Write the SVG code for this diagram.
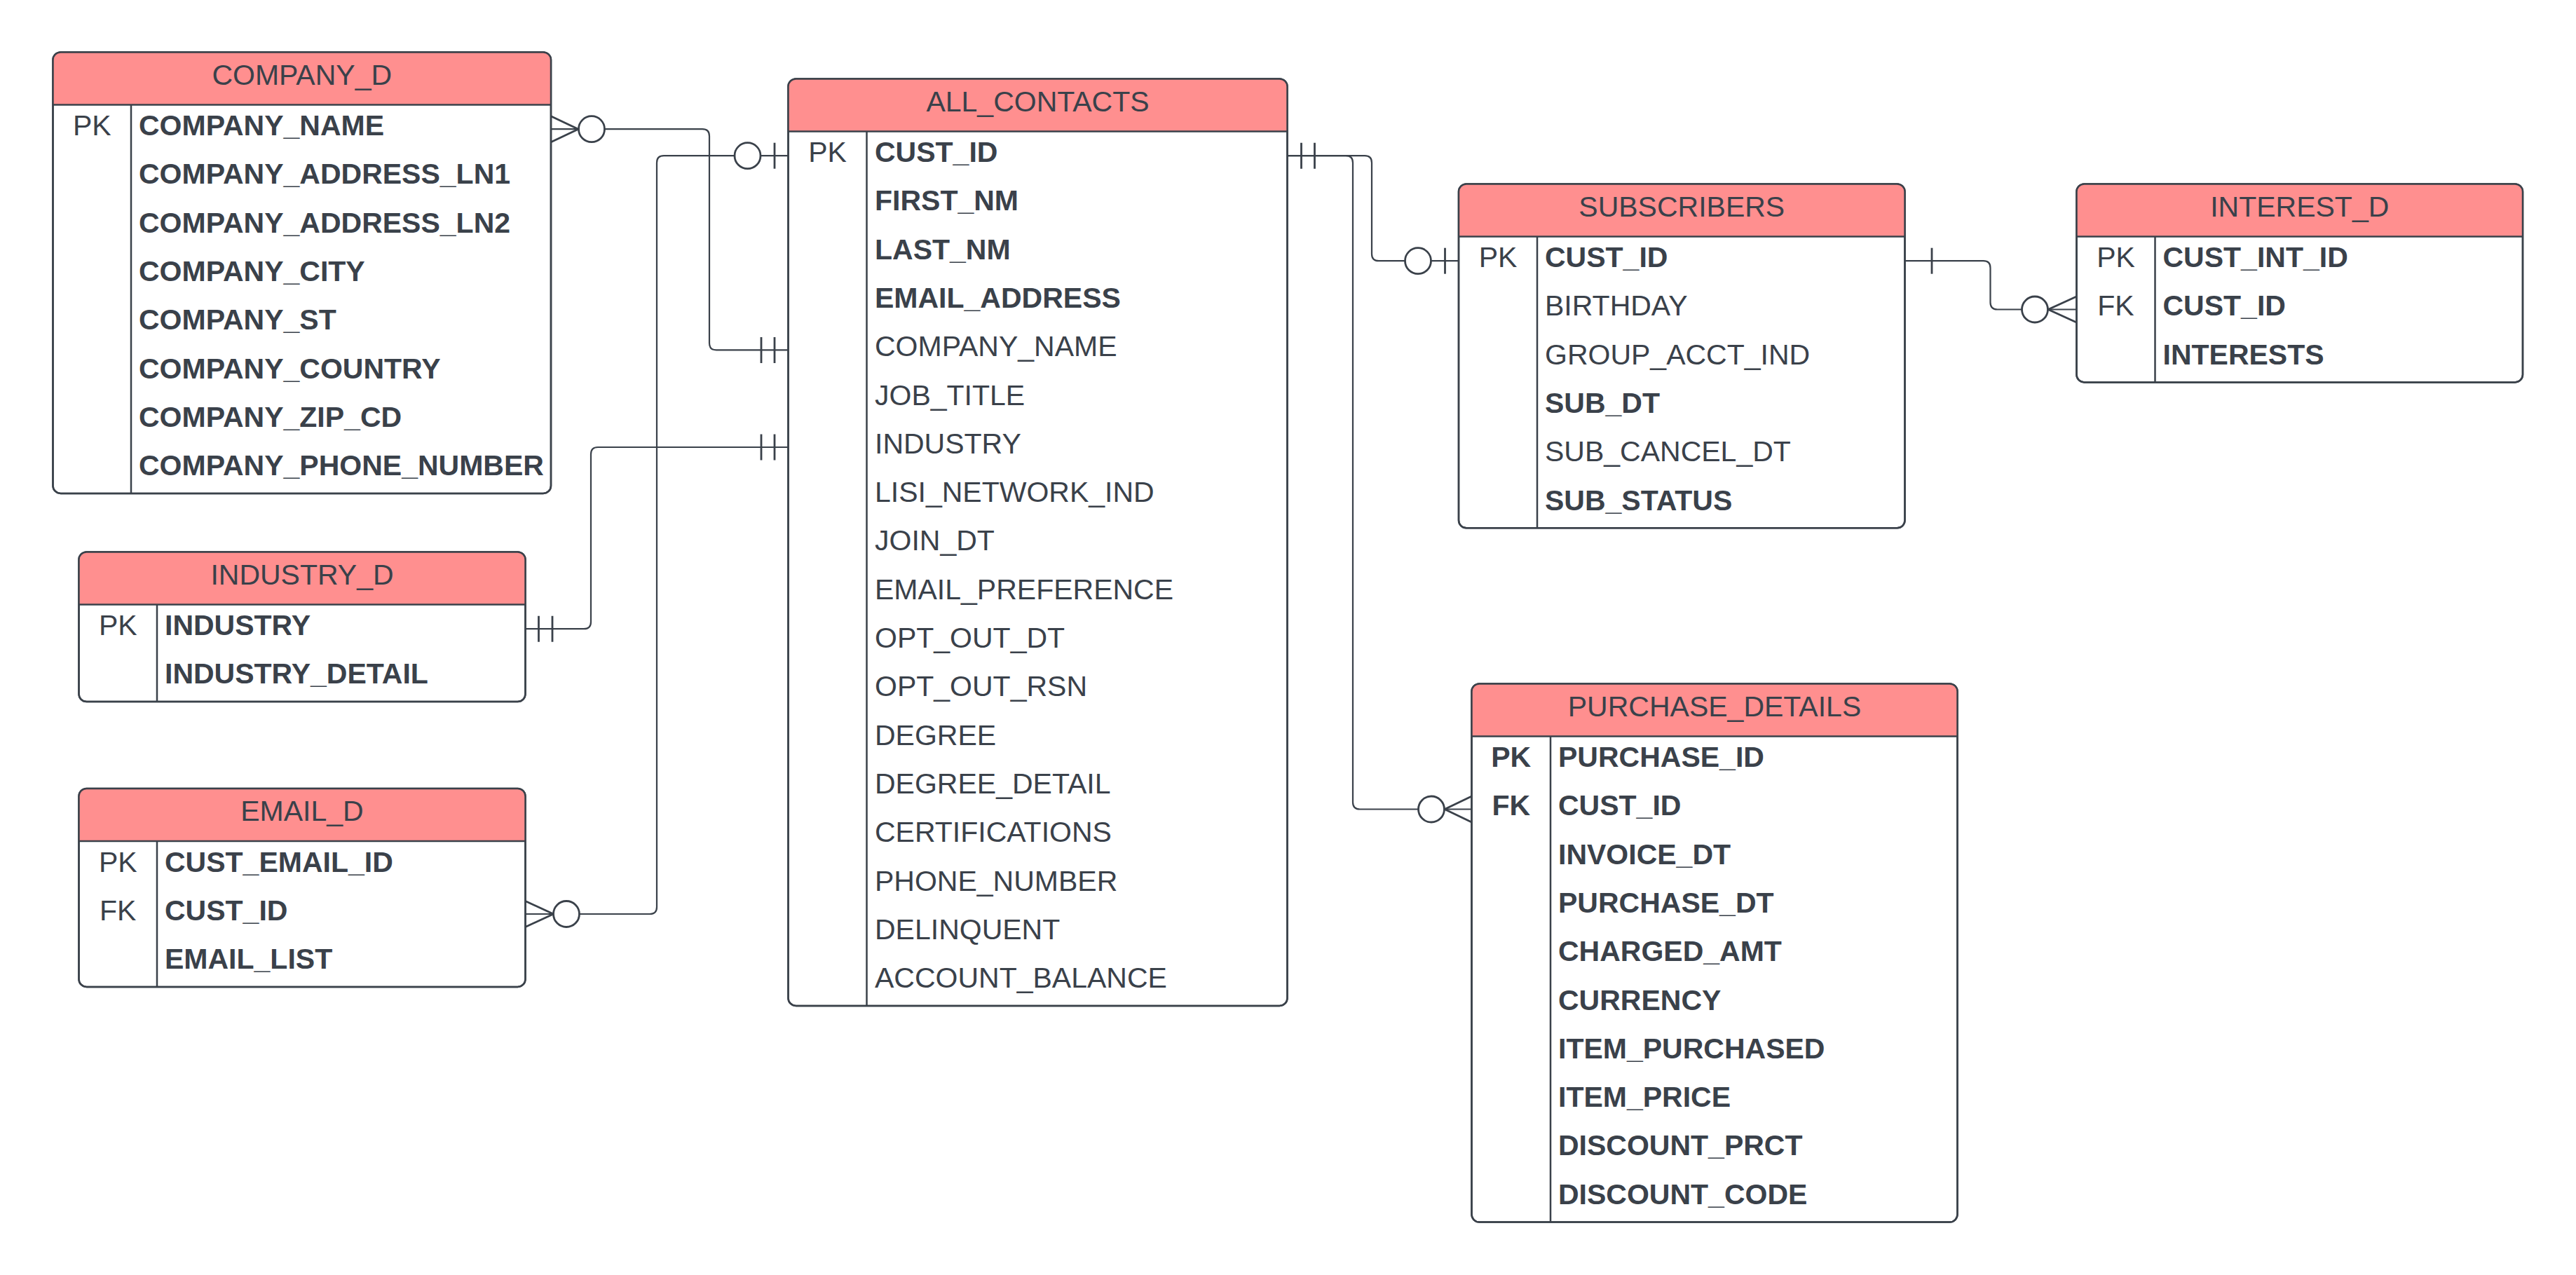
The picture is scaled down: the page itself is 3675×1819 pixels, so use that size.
<svg xmlns="http://www.w3.org/2000/svg" width="3675" height="1819" viewBox="0 0 3675 1819">
<style>
.box{fill:#ffffff;stroke:#3A414A;stroke-width:2.5}
.outline{fill:none;stroke:#3A414A;stroke-width:2.5}
.hdr{fill:#FF8F8F}
.ln{stroke:#3A414A;stroke-width:2.5;fill:none}
.t{font-family:"Liberation Sans",Arial,sans-serif;font-size:41px;fill:#3A414A}
.title{text-anchor:middle}
.key{text-anchor:middle}
.b{font-weight:bold}
.conn{stroke:#3A414A;stroke-width:2.2;fill:none}
.mk{stroke:#3A414A;stroke-width:2.8;fill:none}
.circ{stroke:#3A414A;stroke-width:2.8;fill:#ffffff}
</style>
<rect width="3675" height="1819" fill="#ffffff"/>

<g id="connectors">
  <!-- COMPANY_D.COMPANY_NAME to ALL_CONTACTS.COMPANY_NAME -->
  <path class="conn" d="M786 184.2 H1002 Q1012 184.2 1012 194.2 V489.4 Q1012 499.4 1022 499.4 H1124.5"/>
  <path class="mk" d="M786 165.7 L825 184.2 L786 202.7"/>
  <circle class="circ" cx="844" cy="184.2" r="18.5"/>
  <path class="mk" d="M1086 481 V518 M1105 481 V518"/>

  <!-- EMAIL_D.CUST_ID to ALL_CONTACTS.CUST_ID -->
  <path class="conn" d="M749.5 1304 H927 Q937 1304 937 1294 V232.2 Q937 222.2 947 222.2 H1124.5"/>
  <path class="mk" d="M749.5 1285.5 L789.5 1304 L749.5 1322.5"/>
  <circle class="circ" cx="808" cy="1304" r="18.5"/>
  <circle class="circ" cx="1066.5" cy="222.2" r="18.5"/>
  <path class="mk" d="M1105 203.7 V240.7"/>

  <!-- INDUSTRY_D.INDUSTRY to ALL_CONTACTS.INDUSTRY -->
  <path class="conn" d="M749.5 897.2 H833 Q843 897.2 843 887.2 V648 Q843 638 853 638 H1124.5"/>
  <path class="mk" d="M768.5 878.7 V915.7 M788 878.7 V915.7"/>
  <path class="mk" d="M1086 619.5 V656.5 M1105 619.5 V656.5"/>

  <!-- ALL_CONTACTS.CUST_ID to SUBSCRIBERS.CUST_ID -->
  <path class="conn" d="M1836.5 222.2 H1947 Q1957 222.2 1957 232.2 V362.2 Q1957 372.2 1967 372.2 H2081"/>
  <path class="mk" d="M1856.5 203.7 V240.7 M1875.5 203.7 V240.7"/>
  <circle class="circ" cx="2023" cy="372.2" r="18.5"/>
  <path class="mk" d="M2061.5 353.7 V390.7"/>

  <!-- ALL_CONTACTS.CUST_ID to PURCHASE_DETAILS.CUST_ID -->
  <path class="conn" d="M1836.5 222.2 H1920 Q1930 222.2 1930 232.2 V1144.5 Q1930 1154.5 1940 1154.5 H2099.5"/>
  <path class="mk" d="M2099.5 1136 L2061 1154.5 L2099.5 1173"/>
  <circle class="circ" cx="2042" cy="1154.5" r="18.5"/>

  <!-- SUBSCRIBERS.CUST_ID to INTEREST_D.CUST_ID -->
  <path class="conn" d="M2717.5 372.2 H2829.5 Q2839.5 372.2 2839.5 382.2 V431.5 Q2839.5 441.5 2849.5 441.5 H2962.5"/>
  <path class="mk" d="M2756 353.7 V390.7"/>
  <path class="mk" d="M2962.5 423 L2922 441.5 L2962.5 460"/>
  <circle class="circ" cx="2903" cy="441.5" r="18.5"/>
</g>

<g id="company_d">
  <rect class="box" x="75.5" y="74.5" width="710.5" height="629.4" rx="11"/>
  <path class="hdr" d="M75.5 149.5 V85.5 Q75.5 74.5 86.5 74.5 H775 Q786 74.5 786 85.5 V149.5 Z"/>
  <rect class="outline" x="75.5" y="74.5" width="710.5" height="629.4" rx="11"/>
  <path class="ln" d="M75.5 149.5 H786 M187 149.5 V703.9"/>
  <text class="t title" x="430.75" y="120.5">COMPANY_D</text>
  <text class="t key" x="131.25" y="193">PK</text>
  <text class="t b" x="198" y="193">COMPANY_NAME</text>
  <text class="t b" x="198" y="262.3">COMPANY_ADDRESS_LN1</text>
  <text class="t b" x="198" y="331.6">COMPANY_ADDRESS_LN2</text>
  <text class="t b" x="198" y="400.9">COMPANY_CITY</text>
  <text class="t b" x="198" y="470.2">COMPANY_ST</text>
  <text class="t b" x="198" y="539.5">COMPANY_COUNTRY</text>
  <text class="t b" x="198" y="608.8">COMPANY_ZIP_CD</text>
  <text class="t b" x="198" y="678.1">COMPANY_PHONE_NUMBER</text>
</g>

<g id="all_contacts">
  <rect class="box" x="1124.5" y="112.5" width="712" height="1322.4" rx="11"/>
  <path class="hdr" d="M1124.5 187.5 V123.5 Q1124.5 112.5 1135.5 112.5 H1825.5 Q1836.5 112.5 1836.5 123.5 V187.5 Z"/>
  <rect class="outline" x="1124.5" y="112.5" width="712" height="1322.4" rx="11"/>
  <path class="ln" d="M1124.5 187.5 H1836.5 M1236.5 187.5 V1434.9"/>
  <text class="t title" x="1480.5" y="158.5">ALL_CONTACTS</text>
  <text class="t key" x="1180.5" y="231">PK</text>
  <text class="t b" x="1248" y="231">CUST_ID</text>
  <text class="t b" x="1248" y="300.3">FIRST_NM</text>
  <text class="t b" x="1248" y="369.6">LAST_NM</text>
  <text class="t b" x="1248" y="438.9">EMAIL_ADDRESS</text>
  <text class="t" x="1248" y="508.2">COMPANY_NAME</text>
  <text class="t" x="1248" y="577.5">JOB_TITLE</text>
  <text class="t" x="1248" y="646.8">INDUSTRY</text>
  <text class="t" x="1248" y="716.1">LISI_NETWORK_IND</text>
  <text class="t" x="1248" y="785.4">JOIN_DT</text>
  <text class="t" x="1248" y="854.7">EMAIL_PREFERENCE</text>
  <text class="t" x="1248" y="924">OPT_OUT_DT</text>
  <text class="t" x="1248" y="993.3">OPT_OUT_RSN</text>
  <text class="t" x="1248" y="1062.6">DEGREE</text>
  <text class="t" x="1248" y="1131.9">DEGREE_DETAIL</text>
  <text class="t" x="1248" y="1201.2">CERTIFICATIONS</text>
  <text class="t" x="1248" y="1270.5">PHONE_NUMBER</text>
  <text class="t" x="1248" y="1339.8">DELINQUENT</text>
  <text class="t" x="1248" y="1409.1">ACCOUNT_BALANCE</text>
</g>

<g id="industry_d">
  <rect class="box" x="112.5" y="787.5" width="637" height="213.6" rx="11"/>
  <path class="hdr" d="M112.5 862.5 V798.5 Q112.5 787.5 123.5 787.5 H738.5 Q749.5 787.5 749.5 798.5 V862.5 Z"/>
  <rect class="outline" x="112.5" y="787.5" width="637" height="213.6" rx="11"/>
  <path class="ln" d="M112.5 862.5 H749.5 M224 862.5 V1001.1"/>
  <text class="t title" x="431" y="833.5">INDUSTRY_D</text>
  <text class="t key" x="168.25" y="906">PK</text>
  <text class="t b" x="235" y="906">INDUSTRY</text>
  <text class="t b" x="235" y="975.3">INDUSTRY_DETAIL</text>
</g>

<g id="email_d">
  <rect class="box" x="112.5" y="1125" width="637" height="282.9" rx="11"/>
  <path class="hdr" d="M112.5 1200 V1136 Q112.5 1125 123.5 1125 H738.5 Q749.5 1125 749.5 1136 V1200 Z"/>
  <rect class="outline" x="112.5" y="1125" width="637" height="282.9" rx="11"/>
  <path class="ln" d="M112.5 1200 H749.5 M224 1200 V1407.9"/>
  <text class="t title" x="431" y="1171">EMAIL_D</text>
  <text class="t key" x="168.25" y="1243.5">PK</text>
  <text class="t key" x="168.25" y="1312.8">FK</text>
  <text class="t b" x="235" y="1243.5">CUST_EMAIL_ID</text>
  <text class="t b" x="235" y="1312.8">CUST_ID</text>
  <text class="t b" x="235" y="1382.1">EMAIL_LIST</text>
</g>

<g id="subscribers">
  <rect class="box" x="2081" y="262.5" width="636.5" height="490.8" rx="11"/>
  <path class="hdr" d="M2081 337.5 V273.5 Q2081 262.5 2092 262.5 H2706.5 Q2717.5 262.5 2717.5 273.5 V337.5 Z"/>
  <rect class="outline" x="2081" y="262.5" width="636.5" height="490.8" rx="11"/>
  <path class="ln" d="M2081 337.5 H2717.5 M2193 337.5 V753.3"/>
  <text class="t title" x="2399.25" y="308.5">SUBSCRIBERS</text>
  <text class="t key" x="2137" y="381">PK</text>
  <text class="t b" x="2204" y="381">CUST_ID</text>
  <text class="t" x="2204" y="450.3">BIRTHDAY</text>
  <text class="t" x="2204" y="519.6">GROUP_ACCT_IND</text>
  <text class="t b" x="2204" y="588.9">SUB_DT</text>
  <text class="t" x="2204" y="658.2">SUB_CANCEL_DT</text>
  <text class="t b" x="2204" y="727.5">SUB_STATUS</text>
</g>

<g id="interest_d">
  <rect class="box" x="2962.5" y="262.5" width="636.5" height="282.9" rx="11"/>
  <path class="hdr" d="M2962.5 337.5 V273.5 Q2962.5 262.5 2973.5 262.5 H3588 Q3599 262.5 3599 273.5 V337.5 Z"/>
  <rect class="outline" x="2962.5" y="262.5" width="636.5" height="282.9" rx="11"/>
  <path class="ln" d="M2962.5 337.5 H3599 M3074.5 337.5 V545.4"/>
  <text class="t title" x="3280.75" y="308.5">INTEREST_D</text>
  <text class="t key" x="3018.5" y="381">PK</text>
  <text class="t key" x="3018.5" y="450.3">FK</text>
  <text class="t b" x="3085.5" y="381">CUST_INT_ID</text>
  <text class="t b" x="3085.5" y="450.3">CUST_ID</text>
  <text class="t b" x="3085.5" y="519.6">INTERESTS</text>
</g>

<g id="purchase_details">
  <rect class="box" x="2099.5" y="975.5" width="693" height="768" rx="11"/>
  <path class="hdr" d="M2099.5 1050.5 V986.5 Q2099.5 975.5 2110.5 975.5 H2781.5 Q2792.5 975.5 2792.5 986.5 V1050.5 Z"/>
  <rect class="outline" x="2099.5" y="975.5" width="693" height="768" rx="11"/>
  <path class="ln" d="M2099.5 1050.5 H2792.5 M2212 1050.5 V1743.5"/>
  <text class="t title" x="2446" y="1021.5">PURCHASE_DETAILS</text>
  <text class="t key b" x="2155.75" y="1094">PK</text>
  <text class="t key b" x="2155.75" y="1163.3">FK</text>
  <text class="t b" x="2223" y="1094">PURCHASE_ID</text>
  <text class="t b" x="2223" y="1163.3">CUST_ID</text>
  <text class="t b" x="2223" y="1232.6">INVOICE_DT</text>
  <text class="t b" x="2223" y="1301.9">PURCHASE_DT</text>
  <text class="t b" x="2223" y="1371.2">CHARGED_AMT</text>
  <text class="t b" x="2223" y="1440.5">CURRENCY</text>
  <text class="t b" x="2223" y="1509.8">ITEM_PURCHASED</text>
  <text class="t b" x="2223" y="1579.1">ITEM_PRICE</text>
  <text class="t b" x="2223" y="1648.4">DISCOUNT_PRCT</text>
  <text class="t b" x="2223" y="1717.7">DISCOUNT_CODE</text>
</g>
</svg>
